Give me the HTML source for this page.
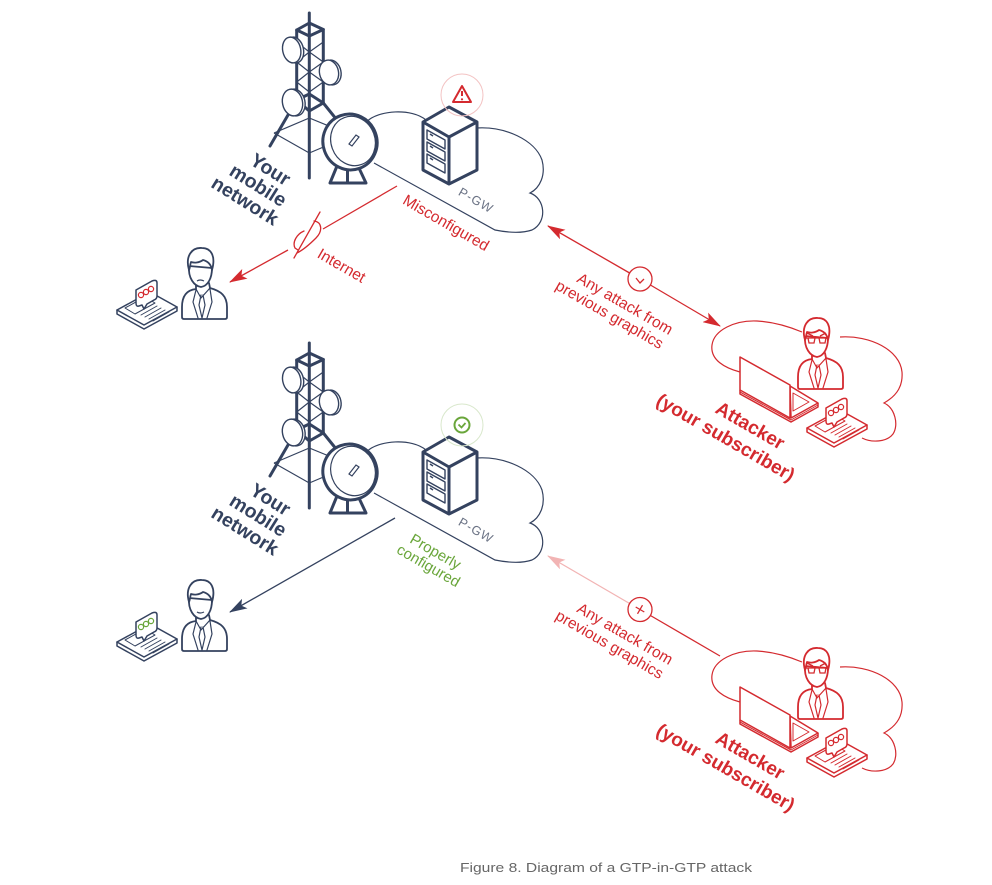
<!DOCTYPE html>
<html><head><meta charset="utf-8"><style>
html,body{margin:0;padding:0;background:#fff;}
svg{display:block;}
</style></head><body>
<svg width="992" height="885" viewBox="0 0 992 885" xmlns="http://www.w3.org/2000/svg" xmlns:xlink="http://www.w3.org/1999/xlink" font-family="'Liberation Sans', sans-serif">
<defs>
<marker id="mr" viewBox="0 0 18 11" refX="17" refY="5.5" markerWidth="18" markerHeight="11" markerUnits="userSpaceOnUse" orient="auto-start-reverse"><path d="M0,0 L18,5.5 L0,11 L4,5.5 Z" fill="#d42a2f"/></marker>
<marker id="mn" viewBox="0 0 18 11" refX="17" refY="5.5" markerWidth="18" markerHeight="11" markerUnits="userSpaceOnUse" orient="auto-start-reverse"><path d="M0,0 L18,5.5 L0,11 L4,5.5 Z" fill="#34425f"/></marker>
<marker id="mp" viewBox="0 0 18 11" refX="17" refY="5.5" markerWidth="18" markerHeight="11" markerUnits="userSpaceOnUse" orient="auto-start-reverse"><path d="M0,0 L18,5.5 L0,11 L4,5.5 Z" fill="#f2b4b4"/></marker>

<g id="person" fill="#fff" stroke="currentColor" stroke-width="1.8" stroke-linejoin="round" stroke-linecap="round">
 <path d="M-4,12 L-4,17 C-13,18 -18,24 -18,35 L-18,45 Q-18,47 -16,47 L25,47 Q27,47 27,45 L27,35 C27,24 21,19 10,16 L9,11"/>
 <path d="M-11,-6 C-12,6 -6,14 1,15 C8,14 12,6 12,-4 Z"/>
 <path d="M-11,-2 C-15,-16 -8,-25 2,-24 C11,-24 16,-16 12,-2 C11,-8 7,-11 3,-12 C-1,-9 -6,-9 -9,-10 C-10,-7 -10,-4 -11,-2 Z"/>
 <path d="M-4,17 L1,26 L10,16 M1,23 L-1,33 L2,46 L5,33 L3,23 M-4,18 L-7,30 L-2,46 M10,17 L12,30 L7,46" fill="none" stroke-width="1.2"/>
</g>

<g id="phone" fill="#fff" stroke="currentColor" stroke-width="1.5" stroke-linejoin="round" stroke-linecap="round">
 <path d="M0,0 L0,4 L27,19 L60,1 L60,-3"/>
 <path d="M0,0 L33,-18 L60,-3 L27,15 Z"/>
 <path d="M8,-2 L28,-13 L38,-7 L18,4 Z" fill="none" stroke-width="1"/>
 <path d="M24,5 L40,-4 M28,7 L44,-2 M32,9 L48,0 M36,11 L52,2" fill="none" stroke-width="1"/>
 <path d="M19,-20 L35,-29 Q40,-31 40,-27 L40,-14 Q40,-11 37,-10 L30,-6 L27,-1 L25,-5 L22,-4 Q19,-3 19,-7 Z"/>
</g>

<g id="net">
 <path d="M366.7,121.7 C378,110 412,108 426,120 M476,128 C505,126 535,140 542,160 C546,175 540,188 530,193 C545,198 548,222 532,230 C520,234 505,232 495,230 L374,163" fill="none" stroke="#34425f" stroke-width="1.2"/>
 <g fill="none" stroke="#34425f" stroke-width="1.2">
  <path d="M296.7,42 L309.3,52 L323.3,42 M296.7,62 L309.3,52 L323.3,62 M296.7,62 L309.3,72 L323.3,62 M296.7,82 L309.3,72 L323.3,82 M296.7,82 L309.3,92 L323.3,82"/>
  <path d="M274,133 L309.3,118 L346,133 M274,133 L309.3,153 L340,140"/>
 </g>
 <g fill="none" stroke="#34425f" stroke-width="3" stroke-linecap="round" stroke-linejoin="round">
  <path d="M309.3,13 L309.3,178"/>
  <path d="M296.7,30 L309.3,23 L323.3,29.5 L309.3,36 Z"/>
  <path d="M296.7,30 L296.7,100 M323.3,29.5 L323.3,103"/>
  <path d="M296.7,100 L309.3,94 L323.3,103 L309.3,111 Z"/>
  <path d="M296.7,100 L270,146 M323.3,103 L345,130"/>
 </g>
 <g fill="#fff" stroke="#34425f" stroke-width="1.4">
  <ellipse cx="294.5" cy="50" rx="9" ry="13" transform="rotate(-12 294.5 50)"/>
  <ellipse cx="291.7" cy="50" rx="9" ry="13" transform="rotate(-12 291.7 50)"/>
  <ellipse cx="331.5" cy="72.5" rx="9.5" ry="12.5" transform="rotate(-12 331.5 72.5)"/>
  <ellipse cx="329" cy="72.5" rx="9.5" ry="12.5" transform="rotate(-12 329 72.5)"/>
  <ellipse cx="295" cy="102.5" rx="10" ry="13.5" transform="rotate(-12 295 102.5)"/>
  <ellipse cx="292.5" cy="102.5" rx="10" ry="13.5" transform="rotate(-12 292.5 102.5)"/>
 </g>
 <g fill="#fff" stroke="#34425f" stroke-width="3" stroke-linejoin="round">
  <path d="M337,166 L330,183 L366,183 L358,166 Z M347.5,168 L347.5,183"/>
  <ellipse cx="350" cy="142" rx="27" ry="28" transform="rotate(-20 350 142)"/>
 </g>
 <g fill="none" stroke="#34425f" stroke-width="1.2">
  <ellipse cx="353" cy="141" rx="22" ry="25" transform="rotate(-20 353 141)"/>
  <path d="M349,144 L356,135 L359,137 L352,146 Z"/>
 </g>
 <g stroke="#34425f" stroke-linejoin="round">
  <path d="M449,107 L477,122 L477,170 L449,184 L423,170 L423,122 Z" fill="#fff" stroke-width="3"/>
  <path d="M423,122 L449,137 L477,122 M449,137 L449,184" fill="none" stroke-width="3"/>
  <path d="M427,130 L445,140 L445,149 L427,139 Z M427,142 L445,152 L445,161 L427,151 Z M427,154 L445,164 L445,173 L427,163 Z" fill="none" stroke-width="1.4"/>
  <path d="M430,134 L433,136 M430,146 L433,148 M430,158 L433,160" fill="none" stroke-width="1.4"/>
 </g>
</g>

<g id="attacker">
 <path d="M740,372 C725,368 710,360 712,345 C714,330 735,320 757,321 C775,322 790,327 802,332 M840,337 C870,335 900,350 902,372 C903,385 898,395 884,403 C895,408 899,425 893,434 C887,442 872,443 862,438" fill="none" stroke="#d42a2f" stroke-width="1.2"/>
 <g fill="#fff" stroke="#d42a2f" stroke-width="1.5" stroke-linejoin="round">
  <path d="M740,390 L740,394 L791,422 L818,407 L818,403"/>
  <path d="M740,392 L791,420 L818,405" fill="none" stroke-width="1"/>
  <path d="M790,386 L818,403 L791,418 Z"/>
  <path d="M793,393 L809,402 L793,411 Z" fill="none" stroke-width="1"/>
  <path d="M740,357 L790,385 L790,418 L740,390 Z"/>
 </g>
 <use xlink:href="#person" href="#person" x="816" y="342" style="color:#d42a2f"/>
 <path d="M806,338 L828,338 M808,338 L809,343 L814,343 L815,338 M819,338 L820,343 L825,343 L826,338 M807,333 L813,336 M826,333 L820,336" fill="none" stroke="#d42a2f" stroke-width="1.3"/>
 <use xlink:href="#phone" href="#phone" x="807" y="428" style="color:#d42a2f"/>
 <g fill="none" stroke="#d42a2f" stroke-width="1.2"><circle cx="831" cy="413" r="2.6"/><circle cx="836" cy="410" r="2.6"/><circle cx="841" cy="407" r="2.6"/></g>
</g>
</defs>

<!-- TOP SCENE -->
<use xlink:href="#net" href="#net"/>
<circle cx="462" cy="95" r="21" fill="none" stroke="#f3c3c3" stroke-width="1"/>
<path d="M462,86 L471,102 L453,102 Z" fill="none" stroke="#d42a2f" stroke-width="2" stroke-linejoin="round"/>
<path d="M462,91 L462,96" stroke="#d42a2f" stroke-width="2"/>
<circle cx="462" cy="99.3" r="1.1" fill="#d42a2f"/>
<text transform="translate(474,204) rotate(30)" text-anchor="middle" font-size="12.5" fill="#6b7385" letter-spacing="1">P-GW</text>

<g transform="translate(267,175) rotate(32)" fill="#34425f" font-weight="bold" font-size="19.5" text-anchor="middle">
 <text x="0" y="0">Your</text>
 <text x="-2" y="20">mobile</text>
 <text x="-5" y="40">network</text>
</g>

<path d="M397,186 L323,229" stroke="#d42a2f" stroke-width="1.3" fill="none"/>
<path d="M288,250 L230,282" stroke="#d42a2f" stroke-width="1.3" fill="none" marker-end="url(#mr)"/>
<path d="M320,212 L294,258 M314,221 C322,222 323,231 316,238 C310,244 303,250 297,253 M304,231 C297,234 292,242 295,248 L298,250" fill="none" stroke="#d42a2f" stroke-width="1.3" stroke-linecap="round"/>
<text transform="translate(443.5,227.3) rotate(30)" text-anchor="middle" font-size="15.5" fill="#d42a2f">Misconfigured</text>
<text transform="translate(339,270) rotate(30)" text-anchor="middle" font-size="15.5" fill="#d42a2f">Internet</text>

<use xlink:href="#person" href="#person" x="200" y="272" style="color:#34425f"/>
<path d="M197,281 Q200,279 204,281" fill="none" stroke="#34425f" stroke-width="1.2"/>
<use xlink:href="#phone" href="#phone" x="117" y="310" style="color:#34425f"/>
<g fill="none" stroke="#d42a2f" stroke-width="1.2"><circle cx="141" cy="295" r="2.6"/><circle cx="146" cy="292" r="2.6"/><circle cx="151" cy="289" r="2.6"/></g>

<path d="M548,226 L629.6,273" stroke="#d42a2f" stroke-width="1.3" fill="none" marker-start="url(#mr)"/>
<path d="M650.4,285 L720,326" stroke="#d42a2f" stroke-width="1.3" fill="none" marker-end="url(#mr)"/>
<circle cx="640" cy="279" r="12" fill="#fff" stroke="#d42a2f" stroke-width="1.3"/>
<path d="M636,278 L640,283 L644,279" fill="none" stroke="#d42a2f" stroke-width="1.3"/>
<text transform="translate(622.5,308.3) rotate(30)" text-anchor="middle" font-size="15.5" fill="#d42a2f">Any attack from</text>
<text transform="translate(607,319) rotate(30)" text-anchor="middle" font-size="15.5" fill="#d42a2f">previous graphics</text>

<use xlink:href="#attacker" href="#attacker"/>
<g fill="#d42a2f" font-weight="bold" font-size="19" text-anchor="middle">
 <text transform="translate(747,431) rotate(30)">Attacker</text>
 <text transform="translate(722.5,443) rotate(30)">(your subscriber)</text>
</g>

<!-- BOTTOM SCENE -->
<use xlink:href="#net" href="#net" y="330"/>
<circle cx="462" cy="425" r="21" fill="none" stroke="#d9e8cc" stroke-width="1"/>
<circle cx="462" cy="425" r="7.5" fill="none" stroke="#6aa63b" stroke-width="2"/>
<path d="M458.5,424.5 L461.5,427.5 L465.5,423" fill="none" stroke="#6aa63b" stroke-width="1.8"/>
<text transform="translate(474,534) rotate(30)" text-anchor="middle" font-size="12.5" fill="#6b7385" letter-spacing="1">P-GW</text>

<g transform="translate(267,505) rotate(32)" fill="#34425f" font-weight="bold" font-size="19.5" text-anchor="middle">
 <text x="0" y="0">Your</text>
 <text x="-2" y="20">mobile</text>
 <text x="-5" y="40">network</text>
</g>

<path d="M395,518 L230,612" stroke="#34425f" stroke-width="1.3" fill="none" marker-end="url(#mn)"/>
<text transform="translate(433,556) rotate(30)" text-anchor="middle" font-size="15" fill="#6aa63b">Properly</text>
<text transform="translate(426,570) rotate(30)" text-anchor="middle" font-size="15" fill="#6aa63b">configured</text>

<use xlink:href="#person" href="#person" x="200" y="604" style="color:#34425f"/>
<path d="M197,612 Q200,614 204,612" fill="none" stroke="#34425f" stroke-width="1.2"/>
<use xlink:href="#phone" href="#phone" x="117" y="642" style="color:#34425f"/>
<g fill="none" stroke="#6aa63b" stroke-width="1.2"><circle cx="141" cy="627" r="2.6"/><circle cx="146" cy="624" r="2.6"/><circle cx="151" cy="621" r="2.6"/></g>

<path d="M548,556 L629.6,603.5" stroke="#f2b4b4" stroke-width="1.3" fill="none" marker-start="url(#mp)"/>
<path d="M650.4,615.5 L720,656" stroke="#d42a2f" stroke-width="1.3" fill="none"/>
<circle cx="640" cy="609.5" r="12" fill="#fff" stroke="#d42a2f" stroke-width="1.3"/>
<path d="M635.7,607 L644.3,612 M642.5,605.2 L637.5,613.8" fill="none" stroke="#d42a2f" stroke-width="1.3"/>
<text transform="translate(622.5,638.3) rotate(30)" text-anchor="middle" font-size="15.5" fill="#d42a2f">Any attack from</text>
<text transform="translate(607,649) rotate(30)" text-anchor="middle" font-size="15.5" fill="#d42a2f">previous graphics</text>

<use xlink:href="#attacker" href="#attacker" y="330"/>
<g fill="#d42a2f" font-weight="bold" font-size="19" text-anchor="middle">
 <text transform="translate(747,761) rotate(30)">Attacker</text>
 <text transform="translate(722.5,773) rotate(30)">(your subscriber)</text>
</g>

<text x="460" y="872" font-size="13" fill="#666" textLength="292" lengthAdjust="spacingAndGlyphs">Figure 8. Diagram of a GTP-in-GTP attack</text>
</svg>
</body></html>
